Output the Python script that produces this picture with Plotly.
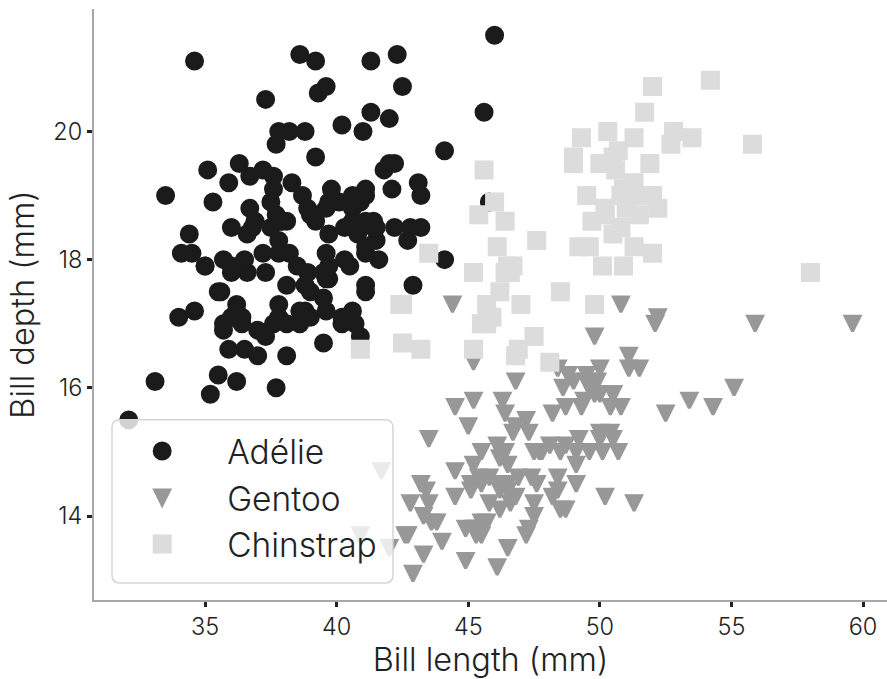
import plotly.graph_objects as go

# Palmer penguins: bill length vs bill depth (mm)
adelie_length = [39.1, 39.5, 40.3, 36.7, 39.3, 38.9, 39.2, 34.1, 42.0, 37.8, 37.8, 41.1, 38.6, 34.6, 36.6, 38.7,
                 42.5, 34.4, 46.0, 37.8, 37.7, 35.9, 38.2, 38.8, 35.3, 40.6, 40.5, 37.9, 40.5, 39.5, 37.2, 39.5,
                 40.9, 36.4, 39.2, 38.8, 42.2, 37.6, 39.8, 36.5, 40.8, 36.0, 44.1, 37.0, 39.6, 41.1, 37.5, 36.0,
                 42.3, 39.6, 40.1, 35.0, 42.0, 34.5, 41.4, 39.0, 40.6, 36.5, 37.6, 35.7, 41.3, 37.6, 41.1, 36.4,
                 41.6, 35.5, 41.1, 35.9, 41.8, 33.5, 39.7, 39.6, 45.8, 35.5, 42.8, 40.9, 37.2, 36.2, 42.1, 34.6,
                 42.9, 36.7, 35.1, 37.3, 41.3, 36.3, 36.9, 38.3, 38.9, 35.7, 41.1, 34.0, 39.6, 36.2, 40.8, 38.1,
                 40.3, 33.1, 43.2, 35.0, 41.0, 37.7, 37.8, 37.9, 39.7, 38.6, 38.2, 38.1, 43.2, 38.1, 45.6, 39.7,
                 42.2, 39.6, 42.7, 38.6, 37.3, 35.7, 41.1, 36.2, 37.7, 40.2, 41.4, 35.2, 40.6, 38.8, 41.5, 39.0,
                 44.1, 38.5, 43.1, 36.8, 37.5, 38.1, 41.1, 35.6, 40.2, 37.0, 39.7, 40.2, 40.6, 32.1, 40.7, 37.3,
                 39.0, 39.2, 36.6, 36.0, 37.8, 36.0, 41.5]
adelie_depth = [18.7, 17.4, 18.0, 19.3, 20.6, 17.8, 19.6, 18.1, 20.2, 17.1, 17.3, 17.6, 21.2, 21.1, 17.8, 19.0,
                20.7, 18.4, 21.5, 18.3, 18.7, 19.2, 18.1, 17.2, 18.9, 18.6, 17.9, 18.6, 18.9, 16.7, 18.1, 17.8,
                18.9, 17.0, 21.1, 20.0, 18.5, 19.3, 19.1, 18.0, 18.4, 18.5, 19.7, 16.9, 18.8, 19.0, 18.9, 17.9,
                21.2, 17.7, 18.9, 17.9, 19.5, 18.1, 18.6, 17.5, 18.8, 16.6, 19.1, 16.9, 21.1, 17.0, 18.2, 17.1,
                18.0, 16.2, 19.1, 16.6, 19.4, 19.0, 18.4, 17.2, 18.9, 17.5, 18.5, 16.8, 19.4, 16.1, 19.1, 17.2,
                17.6, 18.8, 19.4, 17.8, 20.3, 19.5, 18.6, 19.2, 18.8, 18.0, 18.1, 17.1, 18.1, 17.3, 18.9, 18.6,
                18.5, 16.1, 18.5, 17.9, 20.0, 16.0, 20.0, 18.6, 18.9, 17.2, 20.0, 17.0, 19.0, 16.5, 20.3, 17.7,
                19.5, 20.7, 18.3, 17.0, 20.5, 17.0, 18.6, 17.2, 19.8, 17.0, 18.5, 15.9, 19.0, 17.6, 18.3, 17.1,
                18.0, 17.9, 19.2, 18.5, 18.5, 17.6, 17.5, 17.5, 20.1, 16.5, 17.9, 17.1, 17.2, 15.5, 17.0, 16.8,
                18.7, 18.6, 18.4, 17.8, 18.1, 17.1, 18.5]

gentoo_length = [46.1, 50.0, 48.7, 50.0, 47.6, 46.5, 45.4, 46.7, 43.3, 46.8, 40.9, 49.0, 45.5, 48.4, 45.8, 49.3,
                 42.0, 49.2, 46.2, 48.7, 50.2, 45.1, 46.5, 46.3, 42.9, 46.1, 44.5, 47.8, 48.2, 50.0, 47.3, 42.8,
                 45.1, 59.6, 49.1, 48.4, 42.6, 44.4, 44.0, 48.7, 42.7, 49.6, 45.3, 49.6, 50.5, 43.6, 45.5, 50.5,
                 44.9, 45.2, 46.6, 48.5, 45.1, 50.1, 46.5, 45.0, 43.8, 45.5, 43.2, 50.4, 45.3, 46.2, 45.7, 54.3,
                 45.8, 49.8, 46.2, 49.5, 43.5, 50.7, 47.7, 46.4, 48.2, 46.5, 46.4, 48.6, 47.5, 51.1, 45.2, 45.2,
                 49.1, 52.5, 47.4, 50.0, 44.9, 50.8, 43.4, 51.3, 47.5, 52.1, 47.5, 52.2, 45.5, 49.5, 44.5, 50.8,
                 49.4, 46.9, 48.4, 51.1, 48.5, 55.9, 47.2, 49.1, 47.3, 46.8, 41.7, 53.4, 43.3, 48.1, 50.5, 49.8,
                 43.5, 51.5, 46.2, 55.1, 44.5, 48.8, 47.2, 46.8, 50.4, 45.2, 49.9]
gentoo_depth = [13.2, 16.3, 14.1, 15.2, 14.5, 13.5, 14.6, 15.3, 13.4, 15.4, 13.7, 16.1, 13.7, 14.6, 14.6, 15.7,
                13.5, 15.2, 14.5, 15.1, 14.3, 14.5, 14.5, 15.8, 13.1, 15.1, 14.3, 15.0, 14.3, 15.3, 15.3, 14.2,
                14.5, 17.0, 14.8, 16.3, 13.7, 17.3, 13.6, 15.7, 13.7, 16.0, 13.7, 15.0, 15.9, 13.9, 13.9, 15.9,
                13.3, 15.8, 14.2, 14.1, 14.4, 15.0, 14.4, 15.4, 13.9, 15.0, 14.5, 15.3, 13.8, 14.9, 13.9, 15.7,
                14.2, 16.8, 14.4, 16.2, 14.2, 15.0, 15.0, 15.6, 15.6, 14.8, 15.0, 16.0, 14.2, 16.3, 13.8, 16.4,
                14.5, 15.6, 14.6, 15.9, 13.8, 17.3, 14.4, 14.2, 14.0, 17.0, 15.0, 17.1, 14.5, 16.1, 14.7, 15.7,
                15.8, 14.6, 14.4, 16.5, 15.0, 17.0, 15.5, 15.0, 13.8, 16.1, 14.7, 15.8, 14.0, 15.1, 15.2, 15.9,
                15.2, 16.3, 14.1, 16.0, 15.7, 16.2, 13.7, 14.3, 15.7, 14.8, 16.1]

chinstrap_length = [46.5, 50.0, 51.3, 45.4, 52.7, 45.2, 46.1, 51.3, 46.0, 51.3, 46.6, 51.7, 47.0, 52.0, 45.9, 50.5,
                    50.3, 58.0, 46.4, 49.2, 42.4, 48.5, 43.2, 50.6, 46.7, 52.0, 50.5, 49.5, 46.4, 52.8, 40.9, 54.2,
                    42.5, 51.0, 49.7, 47.5, 47.6, 52.0, 46.9, 53.5, 49.0, 46.2, 50.9, 45.5, 50.9, 50.8, 50.1, 49.0,
                    51.5, 49.8, 48.1, 51.4, 45.7, 50.7, 42.5, 52.2, 45.2, 49.3, 50.2, 45.6, 51.9, 46.8, 45.7, 55.8,
                    43.5, 49.6, 50.8, 50.2]
chinstrap_depth = [17.9, 19.5, 19.2, 18.7, 19.8, 17.8, 18.2, 18.2, 18.9, 19.9, 17.8, 20.3, 17.3, 18.1, 17.1, 19.6,
                   20.0, 17.8, 18.6, 18.2, 17.3, 17.5, 16.6, 19.4, 17.9, 19.0, 18.4, 19.0, 17.8, 20.0, 16.6, 20.8,
                   16.7, 18.8, 18.6, 16.8, 18.3, 20.7, 16.6, 19.9, 19.5, 17.5, 19.1, 17.0, 17.9, 18.5, 17.9, 19.6,
                   18.7, 17.3, 16.4, 19.0, 17.3, 19.7, 17.3, 18.8, 16.6, 19.9, 18.8, 19.4, 19.5, 16.5, 17.0, 19.8,
                   18.1, 18.2, 19.0, 18.7]

x_ticks = [35, 40, 45, 50, 55, 60]
y_ticks = [14, 16, 18, 20]
x_range = [30.78, 60.91]
y_range = [12.69, 21.91]

FONT = "Inter"
TEXT = "#222222"
C_ADELIE, C_GENTOO, C_CHINSTRAP = "#1b1b1b", "#989898", "#dcdcdc"
MS, LW = 16, 3       # marker body + same-colour outline
TRI = 15             # triangle body size


def mk(symbol, size, color, **extra):
    return dict(symbol=symbol, size=size, color=color, line=dict(width=LW, color=color), **extra)


fig = go.Figure()
fig.add_trace(go.Scatter(x=adelie_length, y=adelie_depth, mode="markers", name="Adélie",
                         marker=mk("circle", MS, C_ADELIE)))
# down-pointing triangles, centred on each point
fig.add_trace(go.Scatter(x=gentoo_length, y=gentoo_depth, mode="markers", name="Gentoo", showlegend=False,
                         marker=mk("arrow-down", TRI, C_GENTOO, standoff=TRI / 2)))
# legend entry for the triangles (legend symbols flip the standoff direction)
fig.add_trace(go.Scatter(x=[None], y=[None], mode="markers", name="Gentoo",
                         marker=mk("arrow-up", TRI, C_GENTOO, angle=180, standoff=TRI / 2)))
fig.add_trace(go.Scatter(x=chinstrap_length, y=chinstrap_depth, mode="markers", name="Chinstrap",
                         marker=mk("square", MS, C_CHINSTRAP)))

# legend frame with rounded corners
x0, x1, y0, y1 = 0.0227, 0.377, 0.0288, 0.3051
rx, ry = 8 / 793, 8 / 590
frame = (f"M{x0+rx},{y0} L{x1-rx},{y0} Q{x1},{y0} {x1},{y0+ry} L{x1},{y1-ry} Q{x1},{y1} {x1-rx},{y1} "
         f"L{x0+rx},{y1} Q{x0},{y1} {x0},{y1-ry} L{x0},{y0+ry} Q{x0},{y0} {x0+rx},{y0} Z")

axis_common = dict(showgrid=False, zeroline=False, ticks="outside", ticklen=5, tickwidth=3,
                   tickcolor="#222222", showline=True, linecolor="#a8a8a8", linewidth=2,
                   tickfont=dict(family=FONT, size=23.5, color=TEXT, weight=300))
title_font = dict(family=FONT, size=32.5, color=TEXT, weight=300)

fig.update_layout(
    width=887, height=679,
    margin=dict(l=94, r=0, t=9, b=79),
    paper_bgcolor="white", plot_bgcolor="white",
    font=dict(family=FONT, color=TEXT, weight=300),
    showlegend=True,
    legend=dict(x=0.004, y=0.3, xanchor="left", yanchor="top",
                bgcolor="rgba(0,0,0,0)", borderwidth=0,
                font=dict(family=FONT, size=33.5, color=TEXT, weight=300),
                itemwidth=120),
    xaxis=dict(range=x_range, tickvals=x_ticks, **axis_common,
               title=dict(text="Bill length (mm)", font=title_font, standoff=9)),
    yaxis=dict(range=y_range, tickvals=y_ticks, **axis_common,
               title=dict(text="Bill depth (mm)", font=title_font, standoff=9)),
    xaxis2=dict(overlaying="x", anchor="y", side="bottom", range=x_range, tickvals=x_ticks,
                ticks="inside", ticklen=5, tickwidth=3, tickcolor="#222222",
                showticklabels=False, showgrid=False, zeroline=False, showline=False),
    yaxis2=dict(overlaying="y", anchor="x", side="left", range=y_range, tickvals=y_ticks,
                ticks="inside", ticklen=5, tickwidth=3, tickcolor="#222222",
                showticklabels=False, showgrid=False, zeroline=False, showline=False),
    shapes=[dict(type="path", path=frame, xref="paper", yref="paper", layer="above",
                 fillcolor="rgba(255,255,255,0.8)", line=dict(color="#d6d6d6", width=1.5))],
)

fig.write_html("out.html")
